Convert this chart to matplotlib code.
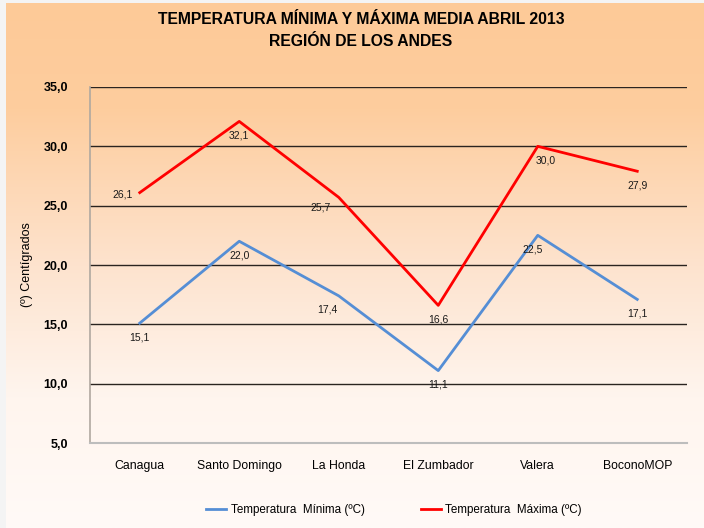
import numpy as np
import matplotlib
matplotlib.use("Agg")
import matplotlib.pyplot as plt
from matplotlib.colors import LinearSegmentedColormap

categories = ["Canagua", "Santo Domingo", "La Honda", "El Zumbador", "Valera", "BoconoMOP"]
t_min = [15.1, 22.0, 17.4, 11.1, 22.5, 17.1]
t_max = [26.1, 32.1, 25.7, 16.6, 30.0, 27.9]
y_ticks = [5, 10, 15, 20, 25, 30, 35]

plt.rcParams['font.family'] = ['Liberation Sans', 'DejaVu Sans']

W, H = 704, 528
fig = plt.figure(figsize=(W / 100, H / 100), dpi=100)
fig.patch.set_facecolor('#F4F4F4')

# gradient background
bg = fig.add_axes([6 / W, 0, 1 - 6 / W, 1 - 3 / H], zorder=0)
cmap = LinearSegmentedColormap.from_list('g', [(0.0, '#FFFAF7'), (0.25, '#FFF5EE'), (0.5, '#FDE3CE'),
                                               (0.8, '#FECD9E'), (1.0, '#FDCA98')])
grad = np.linspace(0, 1, 256).reshape(-1, 1)
bg.imshow(grad, aspect='auto', cmap=cmap, origin='lower', extent=[0, 1, 0, 1])
bg.axis('off')

ax = fig.add_axes([90 / W, 1 - 443 / H, (687 - 90) / W, (443 - 87) / H], zorder=1)
ax.patch.set_alpha(0)
x = np.arange(len(categories))
ax.set_xlim(-0.5, len(categories) - 0.5)
ax.set_ylim(5, 35)
ax.set_yticks(y_ticks)
ax.set_yticklabels([f"{v:.1f}".replace('.', ',') for v in y_ticks], fontweight='bold', fontsize=9)
ax.set_xticks(x)
ax.set_xticklabels(categories, fontsize=8.8)
ax.tick_params(axis='both', length=0)
ax.tick_params(axis='y', pad=16)
ax.tick_params(axis='x', pad=12)
for v in y_ticks[1:]:
    ax.axhline(v, color='#2a2420', lw=1.0, zorder=1)
for s in ['top', 'right']:
    ax.spines[s].set_visible(False)
ax.spines['left'].set_color('#B0A8A0')
ax.spines['bottom'].set_color('#BDBDBD')
ax.spines['left'].set_linewidth(1.2)
ax.spines['bottom'].set_linewidth(1.5)

l1, = ax.plot(x, t_min, color='#558ED5', lw=2.0, label='Temperatura  Mínima (ºC)', zorder=3)
l2, = ax.plot(x, t_max, color='#FF0000', lw=2.0, label='Temperatura  Máxima (ºC)', zorder=3)

def fmt(v):
    return f"{v:.1f}".replace('.', ',')

offs_max = [(-12, -1), (0, -10), (-13, -7), (0, -10), (6, -10), (0, -10)]
offs_min = [(0, -10), (0, -10), (-8, -10), (0, -10), (-4, -10), (0, -10)]
for i, v in enumerate(t_max):
    dx, dy = offs_max[i]
    ax.annotate(fmt(v), (x[i], v), xytext=(dx, dy), textcoords='offset points',
                ha='center', va='center', fontsize=7.5, color='#1a1a1a', zorder=4)
for i, v in enumerate(t_min):
    dx, dy = offs_min[i]
    ax.annotate(fmt(v), (x[i], v), xytext=(dx, dy), textcoords='offset points',
                ha='center', va='center', fontsize=7.5, color='#1a1a1a', zorder=4)

ax.set_ylabel('(º) Centígrados', fontsize=9)
ax.yaxis.set_label_coords(-(90 - 33) / (687 - 90), 0.5)

fig.text(361 / W, 1 - 20 / H, 'TEMPERATURA MÍNIMA Y MÁXIMA MEDIA ABRIL 2013',
         ha='center', va='center', fontsize=11.3, fontweight='bold', zorder=5)
fig.text(361 / W, 1 - 41 / H, 'REGIÓN DE LOS ANDES',
         ha='center', va='center', fontsize=11.3, fontweight='bold', zorder=5)

fig.legend(handles=[l1, l2], loc='center', bbox_to_anchor=(394 / W, 1 - 510 / H), ncol=2,
           frameon=False, fontsize=8.4, handlelength=1.7, handletextpad=0.4, columnspacing=4.8)

fig.savefig('out.png', dpi=100, facecolor=fig.get_facecolor())
